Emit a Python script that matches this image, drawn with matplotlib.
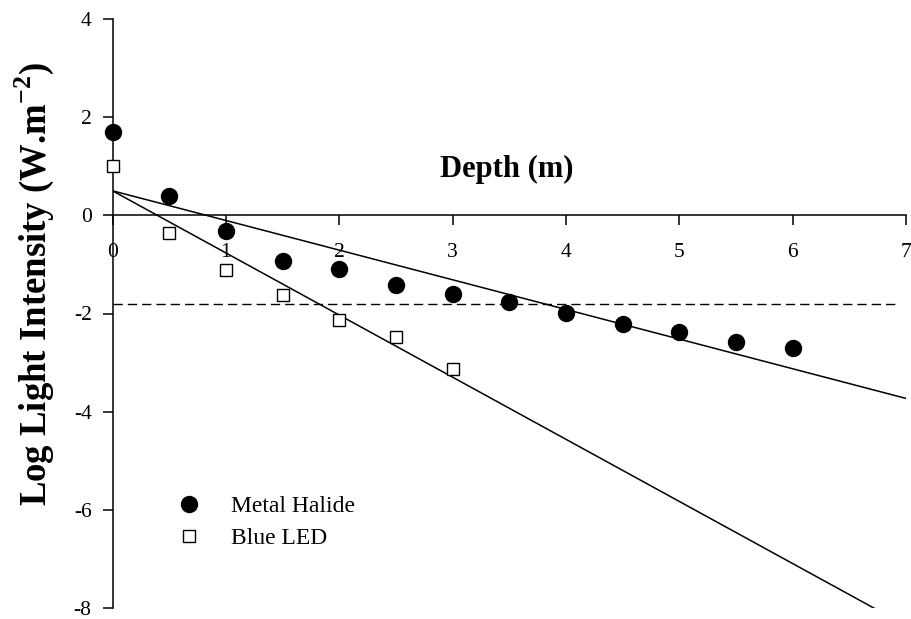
import numpy as np
import matplotlib.pyplot as plt

# depth (m) and log light intensity readings
depth_mh = [0, 0.5, 1, 1.5, 2, 2.5, 3, 3.5, 4, 4.5, 5, 5.5, 6]
logI_mh = [1.69, 0.40, -0.32, -0.93, -1.09, -1.41, -1.60, -1.77, -1.99, -2.21, -2.38, -2.59, -2.71]
depth_led = [0, 0.5, 1, 1.5, 2, 2.5, 3]
logI_led = [1.01, -0.36, -1.12, -1.63, -2.14, -2.48, -3.14]

# fitted regression lines (end points)
fit_x = [0, 7]
fit_mh = [0.50, -3.73]
fit_led = [0.50, -8.36]

# reference threshold
thresh_x = [0, 6.93]
thresh_y = [-1.81, -1.81]

plt.rcParams['font.family'] = ['Liberation Serif', 'DejaVu Serif']
plt.rcParams['mathtext.fontset'] = 'custom'
plt.rcParams['mathtext.rm'] = 'Liberation Serif'
plt.rcParams['mathtext.bf'] = 'Liberation Serif:bold'
plt.rcParams['axes.unicode_minus'] = False

fig = plt.figure(figsize=(9.11, 6.19), dpi=100)
ax = fig.add_axes([112.5 / 911, 1 - 608 / 619, (906 - 112.5) / 911, (608 - 19) / 619])

ax.plot(fit_x, fit_mh, color='black', lw=1.1)
ax.plot(fit_x, fit_led, color='black', lw=1.1)
ax.plot(thresh_x, thresh_y, color='black', lw=1.0, dashes=(6.7, 3.6))

ax.plot(depth_mh, logI_mh, 'o', color='black', ms=11.5, clip_on=False, zorder=5,
        label='Metal Halide')
ax.plot(depth_led, logI_led, 's', mfc='white', mec='black', mew=1.0, ms=9.3,
        clip_on=False, zorder=5, label='Blue LED')

ax.set_xlim(0, 7)
ax.set_ylim(-8, 4)
ax.set_xticks(range(0, 8))
ax.set_yticks(range(-8, 5, 2))

ax.spines['top'].set_visible(False)
ax.spines['right'].set_visible(False)
ax.spines['bottom'].set_position(('data', 0))
ax.spines['left'].set_linewidth(1.1)
ax.spines['bottom'].set_linewidth(1.1)

ax.tick_params(axis='x', direction='out', length=7, width=1.1, pad=13, labelsize=15.5)
ax.tick_params(axis='y', direction='out', length=7, width=1.1, pad=8, labelsize=15.5)

ax.set_ylabel(r'Log Light Intensity (W.m$^{\mathbf{-2}}$)', fontsize=26.5, fontweight='bold')
ax.yaxis.set_label_coords(-0.098, 0.55)
ax.yaxis.label.set_va('center')

ax.text(0.497, 0.744, 'Depth (m)', transform=ax.transAxes, fontsize=22,
        fontweight='bold', ha='center', va='center')

ax.legend(loc='center left', bbox_to_anchor=(0.055, 0.145), frameon=False,
          fontsize=17, handletextpad=1.25, labelspacing=0.45, handlelength=1.0)

fig.savefig('out.png', dpi=100)
